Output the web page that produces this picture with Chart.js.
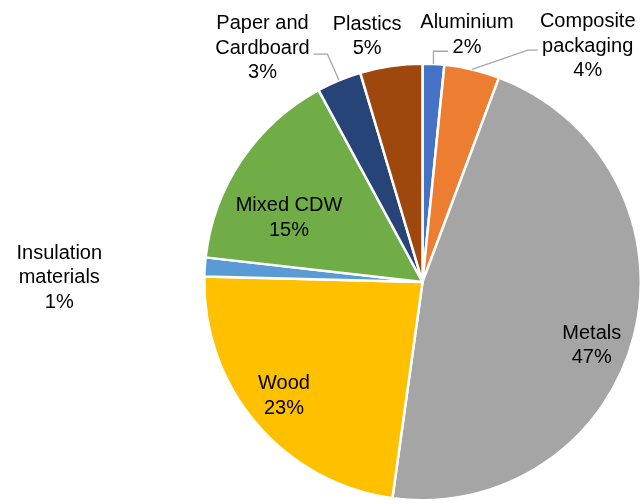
<!DOCTYPE html>
<html>
<head>
<meta charset="utf-8">
<script src="https://cdn.jsdelivr.net/npm/chart.js@4/dist/chart.umd.min.js"></script>
<style>
  body { margin: 0; background: #fff; }
  #wrap { width: 642px; height: 504px; position: relative; }
</style>
</head>
<body>
<div id="wrap"><canvas id="wastePie"></canvas></div>
<script>
// waste categories, clockwise from 12 o'clock
const categories = ['Aluminium', 'Composite packaging', 'Metals', 'Wood', 'Insulation materials', 'Mixed CDW', 'Paper and Cardboard', 'Plastics'];
const shares = [1.6, 4.1, 46.5, 23.2, 1.4, 15.3, 3.3, 4.6];
const labelLines = [['Aluminium'], ['Composite', 'packaging'], ['Metals'], ['Wood'], ['Insulation', 'materials'], ['Mixed CDW'], ['Paper and', 'Cardboard'], ['Plastics']];
const colors = ['#4472C4', '#ED7D31', '#A5A5A5', '#FFC000', '#5B9BD5', '#70AD47', '#264478', '#9E480E'];

// label placement relative to the point where the slice's mid-angle meets the rim
const labelStyle = [
    { dx: 33.5, dy: -28.8, leader: [[-33.5, 16], [-19, 16]] },
    { dx: 115.6, dy: -23.3, leader: [[-60, 4], [-50, 4]] },
    { dx: -42.3, dy: 10.1 },
    { dx: 27.9, dy: -27 },
    { dx: -145.5, dy: 10.7 },
    { dx: 47.4, dy: 58.3 },
    { dx: -76.5, dy: -32.2, leader: [[65, 6], [51, 6]] },
    { dx: -23.9, dy: -29.3 }
]

const total = shares.reduce((a, b) => a + b, 0)

const sliceLabels = {
    id: 'sliceLabels',
    afterDatasetsDraw(chart) {
        const ctx = chart.ctx
        const arcs = chart.getDatasetMeta(0).data
        ctx.save()
        ctx.font = '20px "Liberation Sans", Arial, sans-serif'
        ctx.textAlign = 'center'
        ctx.textBaseline = 'middle'
        const lh = 24.5
        arcs.forEach((arc, i) => {
            const mid = (arc.startAngle + arc.endAngle) / 2
            const ax = arc.x + Math.cos(mid) * arc.outerRadius
            const ay = arc.y + Math.sin(mid) * arc.outerRadius
            const st = labelStyle[i]
            const cx = ax + st.dx
            const cy = ay + st.dy
            if (st.leader) {
                ctx.strokeStyle = '#A6A6A6'
                ctx.lineWidth = 1.3
                ctx.beginPath()
                ctx.moveTo(ax, ay)
                st.leader.forEach(p => ctx.lineTo(cx + p[0], cy + p[1]))
                ctx.stroke()
            }
            const lines = labelLines[i].concat([Math.round(shares[i] / total * 100) + '%'])
            const y0 = cy - (lines.length - 1) * lh / 2
            ctx.fillStyle = '#000'
            lines.forEach((t, k) => ctx.fillText(t, cx, y0 + k * lh))
        })
        ctx.restore()
    }
}

new Chart(document.getElementById('wastePie').getContext('2d'), {
    type: 'pie',
    data: {
        labels: categories,
        datasets: [{
            data: shares,
            backgroundColor: colors,
            borderColor: '#ffffff',
            borderWidth: 2.5
        }]
    },
    options: {
        responsive: true,
        maintainAspectRatio: false,
        animation: false,
        layout: { padding: { left: 203, right: 0, top: 62, bottom: 2 } },
        plugins: {
            legend: { display: false },
            tooltip: { enabled: false }
        }
    },
    plugins: [sliceLabels]
})
</script>
</body>
</html>
